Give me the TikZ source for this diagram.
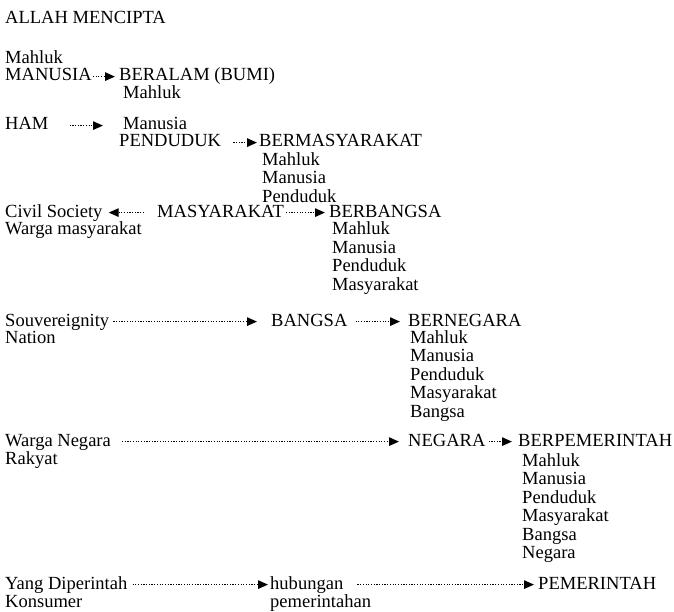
\documentclass[tikz,border=0pt]{standalone}
\usepackage{fontspec}
\setmainfont{Liberation Serif}
\usetikzlibrary{arrows.meta}

\begin{document}
\begin{tikzpicture}[
    x=1bp, y=-1bp,
    term/.style={anchor=base west, inner sep=0pt, font=\fontsize{18.6}{18.5}\selectfont, text height=12.8bp, text depth=4bp},
    list/.style={anchor=north west, inner sep=0pt, align=left, font=\fontsize{18.6}{18.5}\selectfont},
    arrow/.style={-{Triangle[length=10bp, width=8.5bp]}, line width=1.3bp, dash pattern=on 1.2bp off 1.5bp}
  ]
    \useasboundingbox (0,0) rectangle (674,612);
    \node[term] (allah) at (5,24) {ALLAH MENCIPTA};
    \node[term] (mahlukTop) at (5,64) {Mahluk};
    \node[term] (manusia) at (5,81) {MANUSIA};
    \node[term] (beralam) at (119,81) {BERALAM (BUMI)};
    \node[term] (beralamList) at (123,99) {Mahluk};
    \node[term] (ham) at (5,130) {HAM};
    \node[term] (manusiaHam) at (123,130) {Manusia};
    \node[term] (penduduk) at (119,147) {PENDUDUK};
    \node[term] (bermas) at (259,147) {BERMASYARAKAT};
    \node[list] (bermasList) at (262,152.3) {Mahluk\\Manusia\\Penduduk};
    \node[term] (civil) at (5,217) {Civil Society};
    \node[term] (warga) at (5,234) {Warga masyarakat};
    \node[term] (masyarakat) at (157,217) {MASYARAKAT};
    \node[term] (berbangsa) at (329,217) {BERBANGSA};
    \node[list] (berbangsaList) at (332,221.9) {Mahluk\\Manusia\\Penduduk\\Masyarakat};
    \node[term] (souv) at (5,326) {Souvereignity};
    \node[term] (nation) at (5,343) {Nation};
    \node[term] (bangsa) at (271,326) {BANGSA};
    \node[term] (bernegara) at (408,326) {BERNEGARA};
    \node[list] (bernegaraList) at (410,330.4) {Mahluk\\Manusia\\Penduduk\\Masyarakat\\Bangsa};
    \node[term] (wargaNegara) at (5,446) {Warga Negara};
    \node[term] (rakyat) at (5,464) {Rakyat};
    \node[term] (negara) at (408,446) {NEGARA};
    \node[term] (berpem) at (518,446) {BERPEMERINTAH};
    \node[list] (berpemList) at (522,453.4) {Mahluk\\Manusia\\Penduduk\\Masyarakat\\Bangsa\\Negara};
    \node[term] (diperintah) at (5,589) {Yang Diperintah};
    \node[term] (konsumer) at (5,607) {Konsumer};
    \node[term] (hubungan) at (270,589) {hubungan};
    \node[term] (pemerintahan) at (270,607) {pemerintahan};
    \node[term] (pemerintah) at (538,589) {PEMERINTAH};
    % dotted links
    \draw[arrow, shorten <=1bp, shorten >=4bp] (manusia) -- (beralam);
    \draw[arrow, shorten <=21bp, shorten >=20bp] (ham) -- (manusiaHam);
    \draw[arrow, shorten <=12bp, shorten >=2bp] (penduduk) -- (bermas);
    \draw[arrow, shorten <=13bp, shorten >=6bp] (masyarakat) -- (civil);
    \draw[arrow, shorten <=2bp, shorten >=4bp] (masyarakat) -- (berbangsa);
    \draw[arrow, shorten <=4bp, shorten >=14bp] (souv) -- (bangsa);
    \draw[arrow, shorten <=8bp, shorten >=8bp] (bangsa) -- (bernegara);
    \draw[arrow, shorten <=11bp, shorten >=9bp] (wargaNegara) -- (negara);
    \draw[arrow, shorten <=3bp, shorten >=6bp] (negara) -- (berpem);
    \draw[arrow, shorten <=5bp, shorten >=2bp] (diperintah) -- (hubungan);
    \draw[arrow, shorten <=14bp, shorten >=4bp] (hubungan) -- (pemerintah);
  \end{tikzpicture}
\end{document}
